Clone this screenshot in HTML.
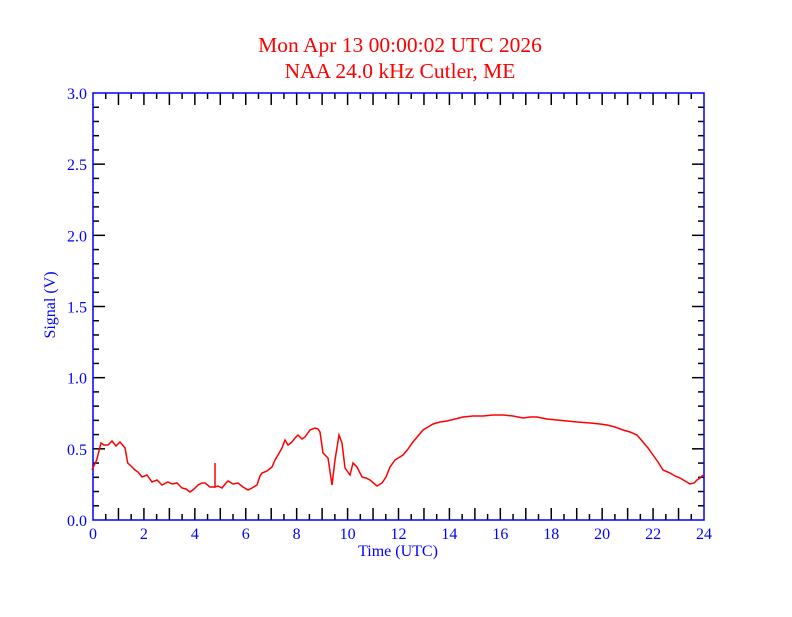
<!DOCTYPE html>
<html><head><style>body{margin:0;background:#fff}</style></head><body>
<svg width="792" height="612" xmlns="http://www.w3.org/2000/svg" font-family="Liberation Serif, serif">
<rect width="792" height="612" fill="#fff"/>
<text x="400" y="52" fill="#f00" font-size="21.5" text-anchor="middle">Mon Apr 13 00:00:02 UTC 2026</text>
<text x="400" y="78" fill="#f00" font-size="21.5" text-anchor="middle">NAA 24.0 kHz Cutler, ME</text>
<g id="ticks" stroke="#000" stroke-width="1.5"></g>
<rect x="93" y="93" width="611" height="427" fill="none" stroke="#00f" stroke-width="1.5"/>
<g id="labels" fill="#00f" font-size="16"></g>
<text x="398" y="556" fill="#00f" font-size="16" text-anchor="middle">Time (UTC)</text>
<text transform="translate(55,305) rotate(-90)" fill="#00f" font-size="16" text-anchor="middle">Signal (V)</text>
<polyline fill="none" stroke="#f00" stroke-width="1.5" points="92,470 96.7,460 101,443 104,445 108,445 112,441 116,446 120,442 125,448 127.7,463 131,466 135,470 138,472 142,477 147,475 152,482 157,480 162,485 168,482 172,484 177,483 182,488 186,489 190,492 194,489 198,485 202,483 205,483 210,487 215,487 215,463 215,487 218,486 222,488 226,483 228,481 233,484 238,483 243,487 248,490 252,488 257,485 260,476 262,473 267,471 272,467 275,460 278,455 282,448 285,440 288,445 292,442 295,438 298,435 302,439 305,437 310,430 315,428 318,429 320,432 323,453 328,458 332,485 335,460 339,435 342,443 345,468 350,475 353,463 357,467 362,477 366,478 370,480 377,486 382,483 386,477 390,467 395,460 403,455 408,449 413,442 418,436 423,430 428,427 433,424 440,422 447,421 455,419 463,417 473,416 483,416 493,415 503,415 513,416 523,418 530,417 537,417 547,419 557,420 567,421 577,422 590,423 600,424 607,425 615,427 623,430 630,432 637,435 643,442 648,448 653,455 658,462 663,470 670,473 675,476 680,478 685,481 690,484 694,483 697,480 700,478 703,475"/>
<script>
var t=document.getElementById('ticks'),l=document.getElementById('labels'),ns='http://www.w3.org/2000/svg';
function ln(x1,y1,x2,y2){var e=document.createElementNS(ns,'line');e.setAttribute('x1',x1);e.setAttribute('y1',y1);e.setAttribute('x2',x2);e.setAttribute('y2',y2);t.appendChild(e);}
function tx(x,y,s,a){var e=document.createElementNS(ns,'text');e.setAttribute('x',x);e.setAttribute('y',y);e.setAttribute('text-anchor',a);e.textContent=s;l.appendChild(e);}
for(var i=1;i<48;i++){var x=93+i*611/48,len=(i%2==0)?12:6;ln(x,520,x,520-len);ln(x,93,x,93+len);}
for(var h=0;h<=24;h+=2)tx(93+h*611/24,539,String(h),'middle');
for(var j=1;j<30;j++){var y=520-j*427/30,len=(j%5==0)?12:6;ln(93,y,93+len,y);ln(704,y,704-len,y);}
for(var k=0;k<=6;k++)tx(87,520-k*427/6+6,(k*0.5).toFixed(1),'end');
</script>
</svg>
</body></html>
